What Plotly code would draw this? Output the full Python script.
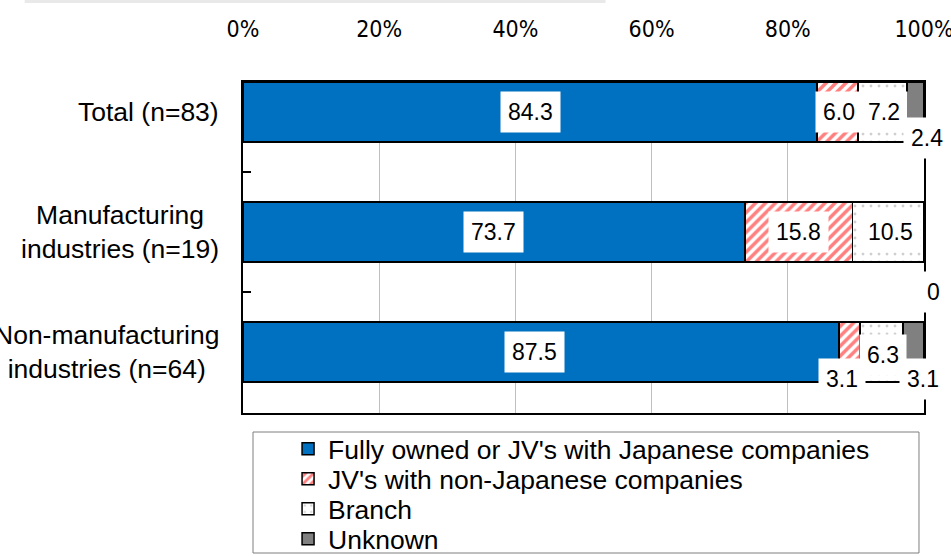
import plotly.graph_objects as go

categories = ["Total (n=83)", "Manufacturing<br>industries (n=19)", "Non-manufacturing<br>industries (n=64)"]
series_names = ["Fully owned or JV's with Japanese companies", "JV's with non-Japanese companies", "Branch", "Unknown"]
fully_owned = [84.3, 73.7, 87.5]
jv_non_japanese = [6.0, 15.8, 3.1]
branch = [7.2, 10.5, 6.3]
unknown = [2.4, 0.0, 3.1]
x_ticks = [0, 20, 40, 60, 80, 100]
x_tick_labels = ["0%", "20%", "40%", "60%", "80%", "100%"]

series_values = [fully_owned, jv_non_japanese, branch, unknown]

styles = [
    dict(color="#0070C0", pattern=None),
    dict(color="white", pattern=dict(shape="/", fgcolor="#FF0000", bgcolor="white", size=7, solidity=0.5)),
    dict(color="white", pattern=dict(shape=".", fgcolor="#A0A0A0", bgcolor="white", size=8, solidity=0.1)),
    dict(color="#808080", pattern=None),
]

# label offsets (xshift, yshift) in pixels per [category][series]
label_offsets = [
    [(0, 0), (1, 0), (2, 0), (12, -26)],
    [(0, 0), (0, 0), (2, 0), (9, -60)],
    [(-6, 0), (-7, -27), (2, -3), (10, -27)],
]

# legend entry centre rows (pixels from top) and legend names
legend_ids = ["legend", "legend2", "legend3", "legend4"]
legend_rows = [449, 479, 509, 539]

FONT = "Liberation Sans, Arial, sans-serif"
NARROW = "DejaVu Sans Condensed, Liberation Sans, sans-serif"

fig = go.Figure()
for name, vals, st, lid in zip(series_names, series_values, styles, legend_ids):
    marker = dict(color=st["color"], line=dict(color="black", width=1.5))
    if st["pattern"]:
        marker["pattern"] = st["pattern"]
    fig.add_trace(go.Bar(
        y=categories, x=vals, orientation="h", name=name,
        marker=marker, width=0.5, hoverinfo="skip", legend=lid,
    ))

annotations = []
for ci, cat in enumerate(categories):
    cum = 0.0
    for si, vals in enumerate(series_values):
        v = vals[ci]
        mid = cum + v / 2
        cum += v
        txt = "0" if v == 0 else f"{v:.1f}"
        dx, dy = label_offsets[ci][si]
        annotations.append(dict(
            x=mid, y=cat, xref="x", yref="y", text=txt, showarrow=False,
            xshift=dx, yshift=dy, bgcolor="white", borderpad=7,
            font=dict(family=FONT, size=23, color="black"),
        ))
    # category label
    annotations.append(dict(
        x=(221 - 243) / 680, y=cat, xref="paper", yref="y", text=cat,
        showarrow=False, xanchor="right", align="center",
        font=dict(family=FONT, size=26.5, color="black"),
    ))

shapes = [
    # legend frame
    dict(type="rect", xref="paper", yref="paper",
         x0=(253 - 243) / 680, x1=(918 - 243) / 680,
         y0=(413 - 553) / 331, y1=(413 - 432) / 331,
         line=dict(color="#7f7f7f", width=1), fillcolor="rgba(0,0,0,0)"),
    # faint shadow of a box cropped at the top
    dict(type="rect", xref="paper", yref="paper",
         x0=(25 - 243) / 680, x1=(605 - 243) / 680,
         y0=(413 - 3) / 331, y1=(413 - 0) / 331,
         line=dict(width=0), fillcolor="#e9e9e9"),
]

legend_layouts = {}
for lid, row in zip(legend_ids, legend_rows):
    legend_layouts[lid] = dict(
        x=(288 - 243) / 680, y=(413 - row) / 331, xanchor="left", yanchor="middle",
        orientation="v", bgcolor="rgba(0,0,0,0)", borderwidth=0,
        font=dict(family=FONT, size=26.5, color="black"),
        itemclick=False, itemdoubleclick=False,
    )

fig.update_layout(
    width=951, height=556,
    barmode="stack",
    margin=dict(l=243, r=27, t=82, b=143, autoexpand=False),
    paper_bgcolor="white", plot_bgcolor="white",
    font=dict(family=FONT, color="black"),
    showlegend=True,
    xaxis=dict(
        range=[0, 100], tickvals=x_ticks, ticktext=x_tick_labels, side="top",
        showgrid=True, gridcolor="#bfbfbf", gridwidth=1,
        showline=True, linecolor="black", linewidth=2, mirror=True,
        ticks="", ticklabelstandoff=34, zeroline=False, automargin=False,
        ticklabeloverflow="allow",
        tickfont=dict(family=NARROW, size=23, color="black"),
    ),
    yaxis=dict(
        type="category", categoryorder="array", categoryarray=categories,
        range=[2.508, -0.25], showticklabels=False, automargin=False,
        ticks="inside", tickson="boundaries", ticklen=8, tickcolor="black", tickwidth=1.5,
        showgrid=False, showline=True, linecolor="black", linewidth=2, mirror=True,
    ),
    annotations=annotations,
    shapes=shapes,
    **legend_layouts,
)

fig.write_html("out.html", config={"displayModeBar": False},
               post_script="document.body.style.margin='0';")
